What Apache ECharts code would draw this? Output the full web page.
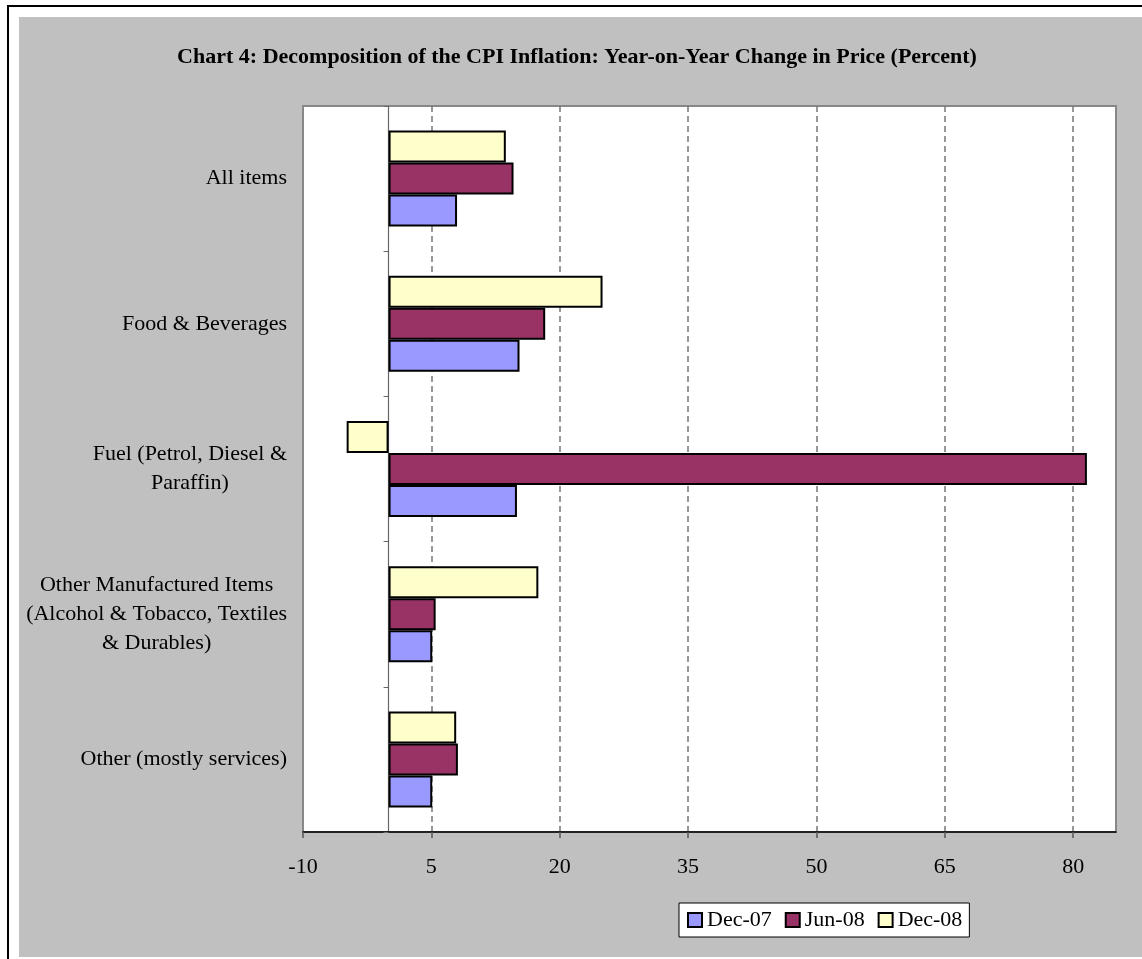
<!DOCTYPE html>
<html>
<head>
<meta charset="utf-8">
<script src="https://cdn.jsdelivr.net/npm/echarts@6/dist/echarts.min.js"></script>
<style>
  html, body { margin: 0; padding: 0; background: #ffffff; }
  #wrap { position: relative; width: 1142px; height: 959px; overflow: hidden; }
  #bg { position: absolute; left: 19px; top: 17px; width: 1123px; height: 940px; background: #c0c0c0; }
  #lineTop { position: absolute; left: 7px; top: 5px; width: 1135px; height: 2px; background: #000; }
  #lineLeft { position: absolute; left: 7px; top: 5px; width: 2px; height: 954px; background: #000; }
  #chart { position: absolute; left: 0; top: 0; width: 1142px; height: 959px; }
</style>
</head>
<body>
<div id="wrap">
  <div id="bg"></div>
  <div id="lineTop"></div>
  <div id="lineLeft"></div>
  <div id="chart"></div>
</div>
<script>
const titleText = 'Chart 4: Decomposition of the CPI Inflation: Year-on-Year Change in Price (Percent)';
const categories = [
  'All items',
  'Food & Beverages',
  'Fuel (Petrol, Diesel &\nParaffin)',
  'Other Manufactured Items\n(Alcohol & Tobacco, Textiles\n& Durables)',
  'Other (mostly services)'
];
const seriesNames = ['Dec-07', 'Jun-08', 'Dec-08'];
const dec07 = [8.0, 15.3, 15.0, 5.1, 5.1];
const jun08 = [14.6, 18.3, 81.6, 5.5, 8.1];
const dec08 = [13.7, 25.0, -4.9, 17.5, 7.9];
const xMin = -10, xMax = 85, xInterval = 15;

const colors = ['#9999ff', '#993366', '#ffffcc'];
const serif = '"Liberation Serif", "Times New Roman", serif';

const chart = echarts.init(document.getElementById('chart'), null, { renderer: 'canvas' });

function mkSeries(name, data, color) {
  return {
    name: name,
    type: 'bar',
    data: data,
    barWidth: 32,
    barGap: '0%',
    itemStyle: { color: color, borderColor: '#000', borderWidth: 2 },
    emphasis: { disabled: true }
  };
}

const option = {
  backgroundColor: 'transparent',
  animation: false,
  title: {
    text: titleText,
    left: 572,
    textAlign: 'center',
    top: 41,
    textStyle: { fontFamily: serif, fontWeight: 'bold', fontSize: 22, color: '#000' }
  },
  grid: {
    left: 303, right: 26, top: 106, bottom: 127,
    show: true, backgroundColor: '#ffffff', borderColor: '#888', borderWidth: 2,
    containLabel: false,
    outerBoundsMode: 'none'
  },
  legend: {
    data: seriesNames,
    left: 679, top: 903,
    orient: 'horizontal',
    backgroundColor: '#ffffff', borderColor: '#000', borderWidth: 1,
    padding: [6, 7, 6, 8],
    itemWidth: 14, itemHeight: 14, itemGap: 13,
    icon: 'rect',
    itemStyle: { borderColor: '#000', borderWidth: 2 },
    textStyle: { fontFamily: serif, fontSize: 22, color: '#000' },
    selectedMode: false
  },
  xAxis: {
    type: 'value',
    min: xMin, max: xMax, interval: xInterval,
    axisLine: { show: true, onZero: false, lineStyle: { color: '#000', width: 1.5 } },
    axisTick: { show: true, length: 6, lineStyle: { color: '#555', width: 1.5 } },
    axisLabel: { fontFamily: serif, fontSize: 22, color: '#000', margin: 24, showMaxLabel: false },
    splitLine: { show: true, showMinLine: false, showMaxLine: false, lineStyle: { color: '#777', type: [6, 4], width: 1.5 } }
  },
  yAxis: {
    type: 'category',
    data: categories,
    inverse: true,
    axisLine: { show: true, onZero: true, lineStyle: { color: '#666', width: 1.2 } },
    axisTick: { show: true, length: 5, lineStyle: { color: '#666' } },
    axisLabel: {
      margin: 16,
      align: 'right',
      color: '#000',
      fontFamily: serif,
      fontSize: 22,
      lineHeight: 29,
      formatter: function (v) {
        return v.split('\n').map(function (l) { return '{c|' + l + '}'; }).join('\n');
      },
      rich: { c: { align: 'center', fontFamily: serif, fontSize: 22, lineHeight: 29, color: '#000' } }
    },
    splitLine: { show: false }
  },
  series: [
    mkSeries(seriesNames[2], dec08, colors[2]),
    mkSeries(seriesNames[1], jun08, colors[1]),
    mkSeries(seriesNames[0], dec07, colors[0])
  ]
};
chart.setOption(option);
</script>
</body>
</html>
